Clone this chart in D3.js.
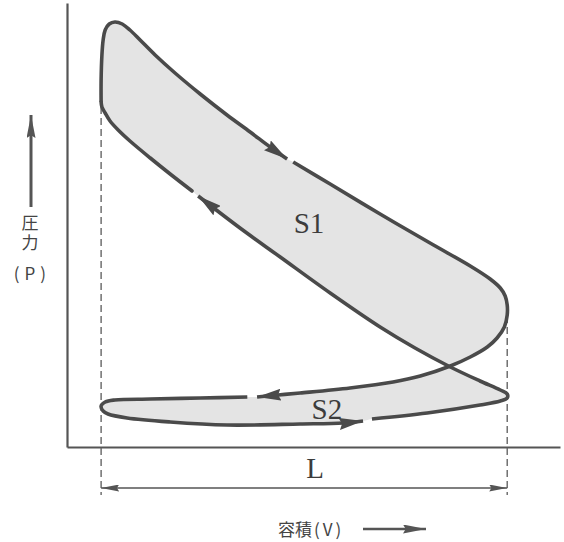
<!DOCTYPE html>
<html><head><meta charset="utf-8">
<script src="https://cdn.jsdelivr.net/npm/d3@7"></script>
<style>html,body{margin:0;padding:0;background:#fff}svg{display:block}</style>
</head><body>
<svg id="chart" width="564" height="542"></svg>
<script>
// Indicator (P–V) diagram of a four-stroke cycle.
// Volume V: top dead centre = 1, bottom dead centre = 11. Pressure P in arbitrary units.

// Combustion and the start of the power stroke (runs up to the first arrow)
const powerStroke = [
  [1.00,34.5],[1.00,36.7],[1.02,39.2],[1.05,40.7],[1.10,41.7],[1.20,42.3],[1.34,42.5],
  [1.52,42.3],[1.71,41.7],[1.96,40.7],[2.33,39.2],[2.82,37.4],[3.44,35.3],[4.10,33.2],
  [4.67,31.5],[5.16,30.0],[5.58,28.8]
];
// Rest of the expansion, blow-down at BDC and the exhaust stroke back to the left
const exhaustStroke = [
  [5.73,28.5],[6.64,26.3],[7.87,23.3],[9.10,20.4],[10.09,18.1],[10.58,16.8],[10.83,15.9],
  [10.95,15.1],[11.00,14.2],[11.00,13.2],[10.93,12.0],[10.75,10.9],[10.51,10.0],[10.09,9.0],
  [9.60,8.1],[8.86,7.1],[8.19,6.5],[7.13,5.9],[5.90,5.4],[5.36,5.2],[4.84,5.0]
];
// End of the exhaust stroke, turn at TDC and the intake stroke
const intakeStroke = [
  [4.60,5.0],[3.44,4.9],[2.21,4.8],[1.34,4.7],[1.10,4.5],[1.00,4.1],[1.05,3.6],[1.17,3.3],
  [1.64,2.9],[2.70,2.5],[4.10,2.2],[5.90,2.3],[6.96,2.4],[7.45,2.6]
];
// End of the intake stroke, turn at BDC and the compression stroke
const compressionStroke = [
  [7.67,2.8],[9.03,3.4],[10.33,4.2],[10.83,4.6],[11.00,4.9],[11.00,5.3],[10.83,5.7],
  [10.33,6.6],[9.60,8.0],[8.73,9.9],[7.87,12.0],[6.64,15.4],[5.41,19.0],[4.42,21.9],
  [3.39,25.1]
];
// Last part of compression, back to ignition at TDC
const compressionEnd = [
  [3.24,25.6],[2.70,27.3],[2.21,28.9],[1.71,30.6],[1.42,31.7],[1.22,32.6],[1.10,33.4],
  [1.02,34.0],[1.00,34.5]
];
// Stroke limits (TDC, BDC) and the ends of the dashed guides
const strokeLimits = [1, 11];
const guideTops = [34.0, 14.2];
const guideBottom = -4.8;
const dimensionLevel = -4.1;
const areaLabels = [
  {text: "S1", v: 6.12, p: 21.4},
  {text: "S2", v: 6.56, p: 2.8}
];
const strokeLabel = {text: "L", v: 6.27, p: -3.1};
const yTitle = ["圧力", "(P)"];
const xTitle = ["容積", "(V)"];

const svg = d3.select("#chart");
const W = 564, H = 542;
svg.append("rect").attr("width", W).attr("height", H).attr("fill", "#fff");

const x = d3.scaleLinear().domain([0.16, 12.3]).range([67, 560]);
const y = d3.scaleLinear().domain([0, 44.4]).range([447, 3]);

const ink = "#4a4a4a";
const defs = svg.append("defs");
function marker(id, len, half, color) {
  defs.append("marker")
    .attr("id", id)
    .attr("viewBox", `0 ${-half} ${len} ${half * 2}`)
    .attr("refX", len).attr("refY", 0)
    .attr("markerWidth", len).attr("markerHeight", half * 2)
    .attr("markerUnits", "userSpaceOnUse")
    .attr("orient", "auto-start-reverse")
    .append("path")
    .attr("d", `M0,${-half}L${len},0L0,${half}L${len * 0.12},0Z`)
    .attr("fill", color);
}
marker("curveArrow", 24, 6, ink);
marker("dimArrow", 18, 3.5, "#555");
marker("titleArrow", 23, 4.5, "#555");

// Shaded work areas (figure-eight outline: S1 above, S2 below)
const outline = [].concat(powerStroke, exhaustStroke, intakeStroke, compressionStroke,
  compressionEnd.slice(0, -1));
svg.append("path")
  .attr("d", d3.line().x(d => x(d[0])).y(d => y(d[1]))
    .curve(d3.curveCatmullRomClosed.alpha(0.5))(outline))
  .attr("fill", "#e4e4e4");

// Axes: only the axis lines, no ticks
svg.append("g").attr("transform", `translate(0,${y(0)})`)
  .call(d3.axisBottom(x).tickValues([]).tickSizeOuter(0))
  .call(g => g.select(".domain").attr("stroke", "#555").attr("stroke-width", 2.2));
svg.append("g").attr("transform", `translate(${x(0.16)},0)`)
  .call(d3.axisLeft(y).tickValues([]).tickSizeOuter(0))
  .call(g => g.select(".domain").attr("stroke", "#555").attr("stroke-width", 2.2));

// Dashed guides at TDC and BDC
strokeLimits.forEach((v, i) => {
  svg.append("line")
    .attr("x1", x(v)).attr("x2", x(v))
    .attr("y1", y(guideTops[i])).attr("y2", y(guideBottom))
    .attr("stroke", "#666").attr("stroke-width", 1.4)
    .attr("stroke-dasharray", "7,4");
});

// Stroke length dimension
svg.append("line")
  .attr("x1", x(strokeLimits[0])).attr("x2", x(strokeLimits[1]))
  .attr("y1", y(dimensionLevel)).attr("y2", y(dimensionLevel))
  .attr("stroke", "#555").attr("stroke-width", 1.4)
  .attr("marker-start", "url(#dimArrow)").attr("marker-end", "url(#dimArrow)");

// Cycle curves with direction arrows
const curve = d3.line().x(d => x(d[0])).y(d => y(d[1])).curve(d3.curveCatmullRom.alpha(0.5));
[powerStroke, exhaustStroke, intakeStroke, compressionStroke].forEach(seg => {
  svg.append("path").attr("d", curve(seg))
    .attr("fill", "none").attr("stroke", ink).attr("stroke-width", 3.6)
    .attr("stroke-linejoin", "round")
    .attr("marker-end", "url(#curveArrow)");
});
svg.append("path").attr("d", curve(compressionEnd))
  .attr("fill", "none").attr("stroke", ink).attr("stroke-width", 3.6)
  .attr("stroke-linecap", "round");

// Area and stroke labels
const serif = "'Liberation Serif','DejaVu Serif',serif";
areaLabels.forEach(l => {
  svg.append("text").attr("x", x(l.v)).attr("y", y(l.p))
    .attr("text-anchor", "middle").attr("font-family", serif)
    .attr("font-size", 29).attr("fill", "#3c3c3c").text(l.text);
});
svg.append("text").attr("x", x(strokeLabel.v)).attr("y", y(strokeLabel.p))
  .attr("text-anchor", "middle").attr("font-family", serif)
  .attr("font-size", 29).attr("fill", "#3c3c3c").text(strokeLabel.text);

// Axis titles
const jp = "'Noto Sans CJK JP','Noto Sans',sans-serif";
svg.append("line").attr("x1", 31).attr("x2", 31).attr("y1", 207).attr("y2", 115)
  .attr("stroke", "#555").attr("stroke-width", 3)
  .attr("marker-end", "url(#titleArrow)");
svg.append("text").attr("x", 30).attr("y", 214)
  .attr("font-family", jp).attr("font-size", 17).attr("fill", "#444")
  .style("writing-mode", "vertical-rl").attr("letter-spacing", 3)
  .text(yTitle[0]);
svg.append("text").attr("x", 32.5).attr("y", 280)
  .attr("font-family", jp).attr("font-size", 17).attr("fill", "#444")
  .attr("text-anchor", "middle").attr("letter-spacing", 5).text(yTitle[1]);

const xt = svg.append("text").attr("x", 278).attr("y", 536).attr("font-family", jp)
  .attr("font-size", 17).attr("fill", "#444");
xt.append("tspan").text(xTitle[0]);
xt.append("tspan").attr("dx", 2).attr("letter-spacing", 3).text(xTitle[1]);
svg.append("line").attr("x1", 363).attr("x2", 426).attr("y1", 529).attr("y2", 529)
  .attr("stroke", "#555").attr("stroke-width", 2.5)
  .attr("marker-end", "url(#titleArrow)");
</script>
</body></html>
